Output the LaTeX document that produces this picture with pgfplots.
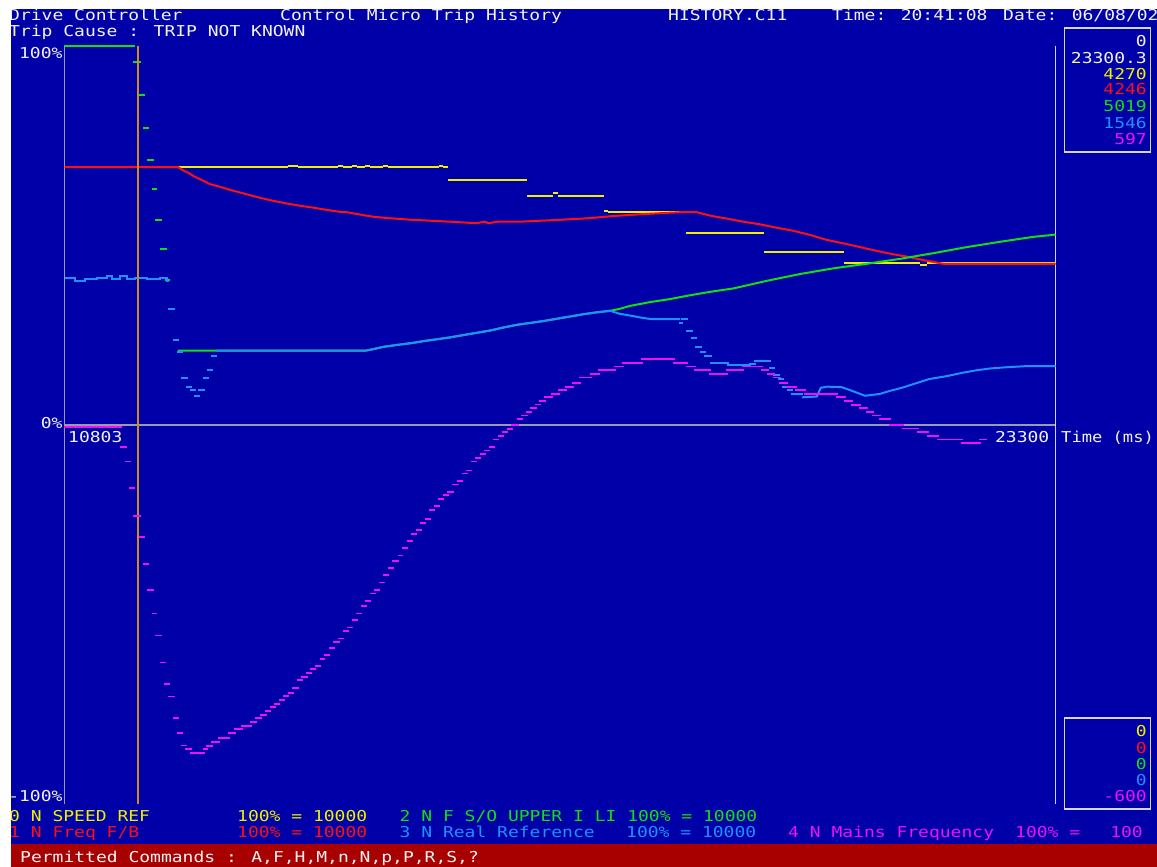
\documentclass[border=0pt]{standalone}
\usepackage{pgfplots}
\pgfplotsset{compat=1.18}
\usepackage{fontspec}
\newfontfamily\dosfont[FakeStretch=1.2]{DejaVu Sans Mono}
\newfontfamily\dosnarrow[FakeStretch=1.14]{DejaVu Sans Mono}

\definecolor{scrblue}{HTML}{0000A8}
\definecolor{barred}{HTML}{A80000}
\definecolor{txtwhite}{HTML}{F2F2F2}
\definecolor{chyellow}{HTML}{F0F000}
\definecolor{chred}{HTML}{FF1010}
\definecolor{chgreen}{HTML}{10E010}
\definecolor{chblue}{HTML}{1E90FF}
\definecolor{chmag}{HTML}{F010F0}
\definecolor{tripline}{HTML}{D08C20}
\definecolor{axisgray}{HTML}{9A9AB0}
\definecolor{framelight}{HTML}{D4D4EC}

\tikzset{dos/.style={inner sep=0pt, font=\dosfont\fontsize{15}{15}\selectfont}}

\begin{document}
\begin{tikzpicture}[x=1pt,y=1pt]
\useasboundingbox (0,0) rectangle (1157,867);
\fill[white] (0,0) rectangle (1157,867);
\fill[scrblue] (11,22.5) rectangle (1157,858);
\fill[barred] (11,0) rectangle (1157,22.5);

\begin{axis}[
  at={(64.5pt,62.7pt)}, anchor=south west,
  scale only axis, width=991pt, height=758.6pt,
  xmin=10803, xmax=23300, ymin=-100, ymax=100,
  hide axis, clip=false,
  every axis plot/.append style={line width=2pt, line cap=butt},
  samplejump/.style={jump mark left, line cap=rect},
]
% frame: zero line, left scale line, right cursor line
\draw[axisgray, line width=1.5pt] (axis cs:10803,0) -- (axis cs:23300,0);
\draw[axisgray, line width=1.5pt] (axis cs:10803,100) -- (axis cs:10803,-100);
\draw[framelight, line width=1.5pt] (axis cs:23300,100) -- (axis cs:23300,-100);

% 0 N SPEED REF
\addplot[chyellow, jump mark left] coordinates {
(10803,68.0) (13622,68.4) (13748,68.0) (14252,68.4) (14315,68.0) (14429,68.4)
(14492,68.0) (14593,68.4) (14656,68.0) (14820,68.4) (14883,68.0) (15526,68.4)
(15576,68.0) (15639,64.6) (16636,60.3) (16964,61.2) (17027,60.3) (17607,56.5)
(17657,56.1) (18641,50.7) (19624,45.5) (20633,42.7) (21592,42.3) (21680,42.7)
(23300,42.7)};

% 1 N Freq F/B
\addplot[chred, sharp plot, line join=round] coordinates {
(10803,68.0) (12234,68.0) (12301,67.1) (12364,66.5) (12440,65.5) (12553,64.4)
(12638,63.5) (12764,62.8) (12890,62.0) (13016,61.3) (13142,60.6) (13268,59.9)
(13436,59.1) (13605,58.4) (13773,57.8) (13941,57.3) (14110,56.7) (14277,56.2)
(14362,56.1) (14551,55.4) (14697,54.9) (14908,54.5) (15182,54.1) (15665,53.6)
(16001,53.2) (16100,53.6) (16150,53.2) (16270,53.6) (16547,53.6) (17052,54.1)
(17409,54.5) (17724,55.1) (18102,55.6) (18565,56.1) (18776,56.1) (18965,55.1)
(19133,54.5) (19363,53.6) (19574,52.9) (19785,52.0) (19994,51.2) (20205,50.1)
(20415,48.8) (20625,47.9) (20835,46.9) (21046,45.9) (21255,45.0) (21424,44.4)
(21676,43.3) (21886,42.5) (23300,42.5)};

% 2 N F S/O UPPER I LI
\addplot[chgreen, samplejump] coordinates {
(10803,100) (11683,95.6) (11749,87.0) (11806,78.4) (11860,69.9) (11919,62.1)
(11961,54.1) (12024,46.4) (12079,38.2) (12127,30.7) (12178,22.5) (12234,19.6)};
\addplot[chgreen, sharp plot, line join=round] coordinates {
(12234,19.6) (14600,19.6) (14697,20.0) (14823,20.6) (14992,21.1) (15182,21.6)
(15328,22.1) (15497,22.6) (15665,23.1) (15832,23.7) (16001,24.3) (16169,24.9)
(16337,25.7) (16506,26.4) (16673,26.9) (16841,27.4) (17010,28.0) (17178,28.6)
(17346,29.2) (17515,29.7) (17682,30.1) (17800,30.6) (17935,31.4) (18187,32.4)
(18439,33.2) (18691,34.2) (18943,35.1) (19237,36.0) (19658,38.0) (20078,39.8)
(20498,41.3) (20919,42.5) (21340,43.8) (21760,45.3) (22181,46.9) (22601,48.3)
(23021,49.6) (23300,50.2)};

% 3 N Real Reference
\addplot[chblue, const plot mark left] coordinates {
(10803,38.8) (10935,38.0) (11061,38.4) (11213,38.8) (11339,39.3) (11402,38.4)
(11503,39.3) (11591,38.4) (11692,38.8) (11843,38.4) (12007,38.8) (12096,38.0)
(12127,38.0)};
\addplot[chblue, samplejump] coordinates {
(12127,30.7) (12178,22.5) (12234,19.3) (12285,12.5) (12342,10.1) (12392,9.2)
(12449,7.6) (12499,9.2) (12556,12.5) (12613,14.4) (12663,18.2) (12714,19.6)};
\addplot[chblue, sharp plot, line join=round] coordinates {
(12714,19.6) (14600,19.6) (14697,20.0) (14823,20.6) (14992,21.1) (15182,21.6)
(15328,22.1) (15497,22.6) (15665,23.1) (15832,23.7) (16001,24.3) (16169,24.9)
(16337,25.7) (16506,26.4) (16673,26.9) (16841,27.4) (17010,28.0) (17178,28.6)
(17346,29.2) (17515,29.7) (17682,30.1) (17808,29.3) (17976,28.7) (18102,28.2)
(18212,27.9) (18565,27.9)};
\addplot[chblue, samplejump] coordinates {
(18565,26.9) (18590,27.9) (18653,24.9) (18710,23.0) (18767,20.6) (18824,19.2)
(18880,18.2) (18956,16.3) (19170,15.7) (19360,15.8) (19448,16.1) (19511,16.8)
(19700,14.9) (19751,13.1) (19807,12.1) (19864,10.1) (19921,9.2) (19978,8.2)
(20104,7.3)};
\addplot[chblue, sharp plot, line join=round] coordinates {
(20104,7.3) (20290,7.5) (20340,9.8) (20420,10.1) (20600,10.0) (20734,9.0)
(20898,7.7) (21087,8.2) (21213,9.0) (21377,9.9) (21541,11.0) (21705,12.1)
(21932,12.9) (22134,13.8) (22298,14.4) (22475,14.9) (22664,15.2) (22916,15.5)
(23300,15.5)};

% trip instant
\addplot[tripline, line width=1.5pt] coordinates {(11730,100) (11730,-100)};

% 4 N Mains Frequency
\addplot[chmag, samplejump, line width=1.8pt] coordinates {
(10803,-0.6) (11516,-5.7) (11575,-9.6) (11633,-16.7) (11683,-23.9) (11751,-29.6)
(11802,-36.7) (11860,-43.5) (11915,-49.7) (11961,-55.5) (12020,-62.6) (12074,-68.3)
(12121,-71.6) (12180,-77.3) (12234,-81.2) (12281,-84.5) (12339,-85.5) (12395,-86.4)
(12562,-85.5) (12600,-84.6) (12663,-83.6) (12751,-82.6) (12878,-81.2) (12953,-80.2)
(13042,-79.3) (13155,-78.3) (13218,-77.3) (13281,-76.4) (13344,-75.4) (13401,-74.4)
(13458,-73.5) (13514,-72.5) (13571,-71.5) (13628,-70.7) (13685,-69.3) (13748,-67.3)
(13798,-66.4) (13861,-65.4) (13912,-64.4) (13968,-63.5) (14031,-61.6) (14082,-60.6)
(14145,-58.7) (14202,-57.3) (14265,-56.3) (14322,-54.4) (14378,-53.4) (14435,-51.5)
(14492,-49.7) (14548,-47.7) (14605,-46.3) (14662,-44.4) (14719,-43.4) (14775,-41.5)
(14832,-39.6) (14889,-37.7) (14946,-35.8) (15015,-34.4) (15066,-32.4) (15129,-30.5)
(15185,-28.7) (15242,-27.7) (15299,-25.8) (15356,-24.8) (15412,-22.4) (15469,-21.4)
(15526,-19.5) (15583,-18.5) (15639,-17.7) (15702,-15.7) (15765,-14.8) (15822,-12.8)
(15879,-12.0) (15936,-9.6) (15992,-8.6) (16049,-7.7) (16106,-6.7) (16163,-5.7)
(16219,-3.8) (16276,-2.9) (16333,-1.9) (16390,-1.0) (16446,0.0) (16522,1.5)
(16573,2.5) (16636,3.4) (16686,4.4) (16749,5.4) (16800,6.3) (16863,7.3)
(16951,8.2) (17039,9.2) (17127,10.1) (17216,11.1) (17304,12.5) (17443,13.4)
(17544,14.4) (17745,15.4) (17846,16.4) (18086,17.3) (18489,16.4) (18653,15.4)
(18754,14.4) (18943,13.4) (19158,14.4) (19360,15.4) (19599,14.4) (19675,13.4)
(19751,12.5) (19826,11.1) (19915,10.1) (20028,9.2) (20142,8.2) (20545,7.3)
(20646,6.3) (20734,5.3) (20835,4.4) (20923,3.4) (20999,2.5) (21087,1.5)
(21213,0.0) (21377,-0.9) (21567,-1.9) (21693,-2.9) (21819,-3.8) (22121,-4.8)
(22348,-3.8) (22424,-3.8)};
\end{axis}

% header
\node[dos, anchor=base west, text=txtwhite] at (9,846.5) {Drive Controller};
\node[dos, anchor=base west, text=txtwhite] at (280,846.5) {Control Micro Trip History};
\node[dos, anchor=base west, text=txtwhite] at (668,846.5) {HISTORY.C11};
\node[dos, anchor=base west, text=txtwhite] at (832,846.5) {Time: 20:41:08};
\node[dos, anchor=base west, text=txtwhite] at (1003,846.5) {Date: 06/08/02};
\node[dos, anchor=base west, text=txtwhite] at (9,830) {Trip Cause : TRIP NOT KNOWN};

% scale labels
\node[dos, anchor=base east, text=txtwhite] at (62.7,808) {100\%};
\node[dos, anchor=base east, text=txtwhite] at (62.7,438.7) {0\%};
\node[dos, anchor=base east, text=txtwhite] at (62.7,65.5) {-100\%};
\node[dos, anchor=base west, text=txtwhite] at (68,424) {10803};
\node[dos, anchor=base east, text=txtwhite] at (1049.5,424) {23300};
\node[inner sep=0pt, font=\dosnarrow\fontsize{15}{15}\selectfont, anchor=base west, text=txtwhite] at (1061,424) {Time (ms)};

% cursor value boxes
\draw[framelight, line width=1.5pt] (1064.5,715) rectangle (1150.5,839);
\node[dos, anchor=base east, text=txtwhite] at (1147,820.3) {0};
\node[dos, anchor=base east, text=txtwhite] at (1147,803.7) {23300.3};
\node[dos, anchor=base east, text=chyellow] at (1147,787.7) {4270};
\node[dos, anchor=base east, text=chred]    at (1147,772) {4246};
\node[dos, anchor=base east, text=chgreen]  at (1147,755.3) {5019};
\node[dos, anchor=base east, text=chblue]   at (1147,738.7) {1546};
\node[dos, anchor=base east, text=chmag]    at (1147,722.7) {597};

\draw[framelight, line width=1.5pt] (1064.5,58) rectangle (1150.5,149);
\node[dos, anchor=base east, text=chyellow] at (1147,130.3) {0};
\node[dos, anchor=base east, text=chred]    at (1147,113.7) {0};
\node[dos, anchor=base east, text=chgreen]  at (1147,97) {0};
\node[dos, anchor=base east, text=chblue]   at (1147,81) {0};
\node[dos, anchor=base east, text=chmag]    at (1147,65) {-600};

% channel legend
\node[dos, anchor=base west, text=chyellow] at (9,45.5) {0 N SPEED REF};
\node[dos, anchor=base west, text=chyellow] at (237,45.5) {100\% = 10000};
\node[dos, anchor=base west, text=chgreen]  at (399.5,45.5) {2 N F S/O UPPER I LI 100\% = 10000};
\node[dos, anchor=base west, text=chred]    at (9,29) {1 N Freq F/B};
\node[dos, anchor=base west, text=chred]    at (237,29) {100\% = 10000};
\node[dos, anchor=base west, text=chblue]   at (399.5,29) {3 N Real Reference};
\node[dos, anchor=base west, text=chblue]   at (626,29) {100\% = 10000};
\node[dos, anchor=base west, text=chmag]    at (788,29) {4 N Mains Frequency};
\node[dos, anchor=base west, text=chmag]    at (1015,29) {100\% =};
\node[dos, anchor=base east, text=chmag]    at (1143,29) {100};

% status line
\node[dos, anchor=base west, text=txtwhite] at (20,4) {Permitted Commands : A,F,H,M,n,N,p,P,R,S,?};

% screen margins
\fill[white] (0,0) rectangle (11,867);
\fill[white] (0,858) rectangle (1157,867);
\end{tikzpicture}
\end{document}
